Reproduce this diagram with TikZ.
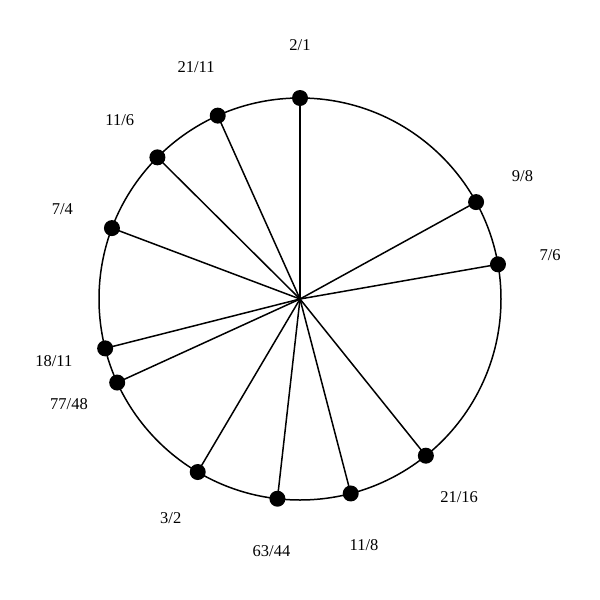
\documentclass[tikz,border=0pt]{standalone}
\usepackage{fontspec}
\setmainfont{Liberation Serif}
\usetikzlibrary{calc}
\begin{document}
\begin{tikzpicture}[x=1pt,y=-1pt,
  dot/.style={circle,fill=black,inner sep=0pt,minimum size=16pt},
  lab/.style={font=\fontsize{16.5}{20}\selectfont,inner sep=0pt},
  spoke/.style={line width=1.5pt},
  rim/.style={line width=1.5pt}]
\useasboundingbox (0,0) rectangle (600,600);
\coordinate (c) at (300,299);
\draw[rim] (c) circle[radius=201];
\foreach \ang/\txt/\nm in {0/2\slash 1/a, 61.17/9\slash 8/b, 80.06/7\slash 6/d, 141.23/21\slash 16/e, 165.38/11\slash 8/f, 186.45/63\slash 44/g, 210.59/3\slash 2/h, 245.44/77\slash 48/i, 255.78/18\slash 11/j, 290.66/7\slash 4/k, 314.81/11\slash 6/l, 335.84/21\slash 11/m}{
  \coordinate (p\nm) at ($(c)+({201*sin(\ang)},{-201*cos(\ang)})$);
  \draw[spoke] (c) -- (p\nm);
  \node[dot] (d\nm) at (p\nm) {};
  \node[lab] (t\nm) at ($(c)+({254*sin(\ang)},{-254*cos(\ang)})$) {\txt};
}
\end{tikzpicture}
\end{document}
